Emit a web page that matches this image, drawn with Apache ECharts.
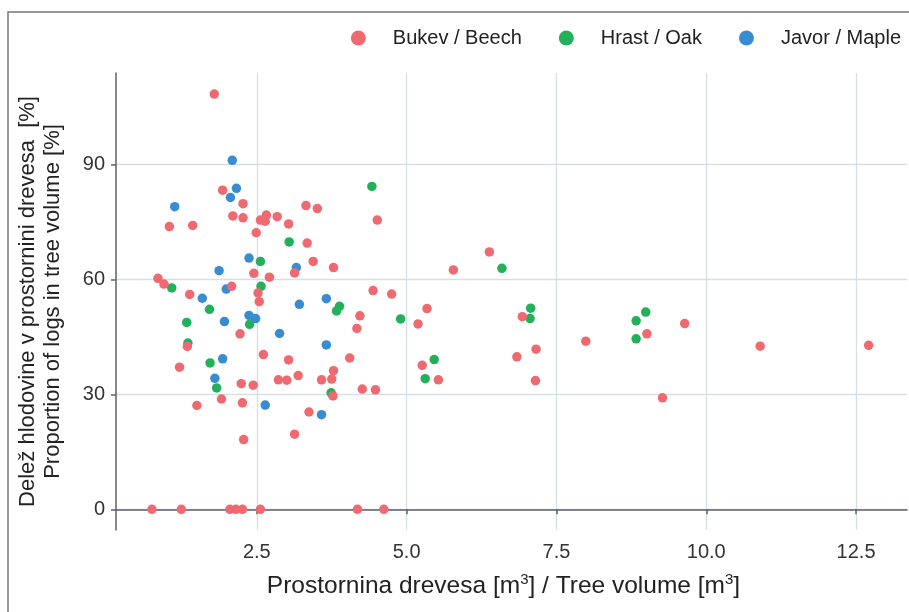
<!DOCTYPE html>
<html>
<head>
<meta charset="utf-8">
<title>Delež hlodovine v prostornini drevesa</title>
<script src="https://cdn.jsdelivr.net/npm/echarts@6/dist/echarts.min.js"></script>
<style>
  html, body { margin: 0; padding: 0; background: #fff; }
  #chart { width: 909px; height: 612px; }
</style>
</head>
<body>
<div id="chart"></div>
<script>
// Species names (legend order)
const speciesNames = ['Bukev / Beech', 'Hrast / Oak', 'Javor / Maple'];

// [tree volume m3, proportion of logs %]
const beechPoints = [
  [1.79, 108.4], [1.93, 83.3], [2.27, 79.8], [3.32, 79.3], [3.51, 78.5], [2.10, 76.6],
  [2.27, 76.1], [2.56, 75.5], [2.66, 76.8], [2.64, 75.2], [2.84, 76.4], [3.03, 74.5],
  [4.51, 75.5], [1.04, 73.8], [1.43, 74.1], [2.49, 72.2], [3.34, 69.5], [2.45, 61.6],
  [3.13, 61.7], [2.71, 60.6], [0.85, 60.3], [0.95, 58.8], [2.08, 58.2], [2.52, 56.5],
  [1.38, 56.1], [2.54, 54.2], [2.22, 45.8], [1.34, 42.5], [2.61, 40.4], [3.03, 39.0],
  [1.21, 37.1], [3.44, 64.7], [3.78, 63.1], [6.38, 67.2], [5.78, 62.5], [4.44, 57.1],
  [4.75, 56.2], [5.34, 52.4], [4.22, 50.5], [5.19, 48.4], [4.17, 47.2], [4.05, 39.5],
  [5.26, 37.6], [3.78, 36.2], [3.19, 34.9], [3.58, 33.8], [3.75, 34.0], [3.77, 29.6],
  [4.26, 31.4], [4.48, 31.2], [5.53, 33.8], [3.37, 25.4], [3.13, 19.6], [4.18, 0],
  [4.62, 0], [2.24, 32.8], [2.44, 32.4], [2.86, 33.8], [3.00, 33.7], [1.91, 28.8],
  [1.50, 27.1], [2.26, 27.8], [2.28, 18.2], [0.75, 0], [1.24, 0], [2.05, 0],
  [2.15, 0], [2.26, 0], [2.56, 0], [6.93, 50.3], [7.16, 41.8], [6.84, 39.8],
  [7.15, 33.6], [7.99, 43.9], [9.01, 45.8], [9.64, 48.5], [9.27, 29.1], [10.90, 42.6],
  [12.71, 42.8]
];

const oakPoints = [
  [4.42, 84.3], [3.04, 69.8], [2.56, 64.7], [1.08, 57.8], [2.57, 58.2], [1.71, 52.2],
  [1.33, 48.8], [2.38, 48.3], [1.35, 43.4], [1.72, 38.2], [6.59, 62.9], [3.88, 53.0],
  [3.83, 51.8], [4.90, 49.7], [5.46, 39.1], [3.74, 30.4], [5.31, 34.1], [1.83, 31.7],
  [7.07, 52.5], [7.06, 49.8], [8.99, 51.5], [8.83, 49.2], [8.83, 44.5]
];

const maplePoints = [
  [2.09, 91.1], [2.16, 83.8], [2.06, 81.4], [1.13, 79.0], [2.37, 65.6], [1.87, 62.3],
  [3.16, 63.1], [1.99, 57.5], [1.59, 55.1], [3.21, 53.5], [1.96, 49.0], [2.37, 50.6],
  [2.48, 49.8], [2.88, 45.9], [1.93, 39.3], [1.80, 34.2], [3.66, 55.0], [3.66, 42.9],
  [3.58, 24.7], [2.64, 27.2]
];

// Axis ticks
const xTicks = [2.5, 5.0, 7.5, 10.0, 12.5];
const yTicks = [0, 30, 60, 90];

const COLORS = ['#EE6A70', '#22B05B', '#3A8CD0'];
const FONT = '"Liberation Sans", Arial, Helvetica, sans-serif';
const AXIS_COLOR = '#5d6269';
const GRID_COLOR = '#d6dee6';

const chart = echarts.init(document.getElementById('chart'), null, { renderer: 'canvas' });

const option = {
  backgroundColor: '#fff',
  animation: false,
  textStyle: { fontFamily: FONT },
  color: COLORS,
  graphic: [{
    type: 'polyline',
    shape: { points: [[8, 612], [8, 12], [909, 12]] },
    style: { stroke: '#777', lineWidth: 1.5, fill: null },
    silent: true
  }],
  legend: {
    data: speciesNames,
    right: 3,
    top: 23,
    icon: 'circle',
    itemWidth: 15,
    itemHeight: 15,
    itemGap: 37,
    textStyle: { color: '#222', fontSize: 20, fontFamily: FONT, padding: [0, 0, 0, 22] }
  },
  grid: { left: 116, right: 2, top: 73, bottom: 82, containLabel: false },
  xAxis: {
    type: 'value',
    min: 0.15,
    max: 13.35,
    name: 'Prostornina drevesa [m{sup|3}] / Tree volume [m{sup|3}]',
    nameLocation: 'middle',
    nameGap: 42,
    nameTextStyle: {
      color: '#222', fontSize: 24.5, fontFamily: FONT, padding: [0, 16, 0, 0],
      rich: { sup: { fontSize: 15, color: '#222', fontFamily: FONT, padding: [0, 0, 13, 0] } }
    },
    axisLine: { show: true, lineStyle: { color: AXIS_COLOR, width: 1.5 } },
    axisTick: { show: true, customValues: xTicks, length: 5, lineStyle: { color: AXIS_COLOR, width: 1.5 } },
    axisLabel: {
      customValues: xTicks,
      color: '#333', fontSize: 20, fontFamily: FONT, margin: 12,
      formatter: v => v.toFixed(1)
    },
    splitLine: { show: true, lineStyle: { color: GRID_COLOR, width: 1.3 } }
  },
  yAxis: {
    type: 'value',
    min: -5.4,
    max: 113.9,
    name: 'Delež hlodovine v prostornini drevesa  [%]\nProportion of logs in tree volume [%]',
    nameLocation: 'middle',
    nameRotate: 90,
    nameGap: 51,
    nameTextStyle: { color: '#222', fontSize: 22, fontFamily: FONT, lineHeight: 25, align: 'center' },
    axisLine: { show: true, lineStyle: { color: AXIS_COLOR, width: 1.5 } },
    axisTick: { show: true, customValues: yTicks, length: 5, lineStyle: { color: AXIS_COLOR, width: 1.5 } },
    axisLabel: { customValues: yTicks, color: '#333', fontSize: 20, fontFamily: FONT, margin: 11 },
    splitLine: { show: true, lineStyle: { color: GRID_COLOR, width: 1.3 } }
  },
  series: [
    { name: speciesNames[0], type: 'scatter', data: beechPoints, symbolSize: 9.5, z: 4,
      itemStyle: { color: COLORS[0], opacity: 1 } },
    { name: speciesNames[1], type: 'scatter', data: oakPoints, symbolSize: 9.5, z: 3,
      itemStyle: { color: COLORS[1], opacity: 1 } },
    { name: speciesNames[2], type: 'scatter', data: maplePoints, symbolSize: 9.5, z: 3,
      itemStyle: { color: COLORS[2], opacity: 1 } }
  ]
};

chart.setOption(option);
</script>
</body>
</html>
